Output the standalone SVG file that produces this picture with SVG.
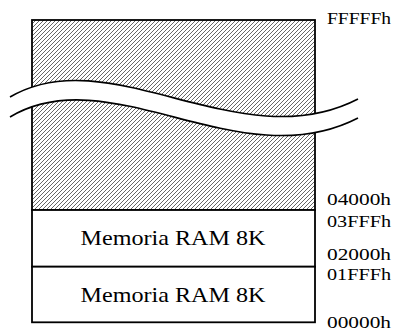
<svg xmlns="http://www.w3.org/2000/svg" width="393" height="331" viewBox="0 0 393 331">
<defs>
<pattern id="hatch" patternUnits="userSpaceOnUse" width="4" height="4">
<path d="M-1,1 L1,-1 M0,4 L4,0 M3,5 L5,3" stroke="#000" stroke-width="0.6"/>
</pattern>
</defs>
<style>
.box{stroke:#000;stroke-width:1.8;}
.lbl{font-family:"Liberation Serif","Times New Roman",serif;font-size:17px;fill:#000;}
.ram{font-family:"Liberation Serif","Times New Roman",serif;font-size:22px;fill:#000;text-anchor:middle;}
.brk{fill:none;stroke:#000;stroke-width:1.6;}
</style>
<g id="reserved">
<rect class="box" x="32" y="20" width="283" height="190" fill="url(#hatch)"/>
</g>
<g id="ram2">
<rect class="box" x="32" y="210" width="283" height="56.7" fill="#fff"/>
<text class="ram" x="173" y="245" textLength="185" lengthAdjust="spacingAndGlyphs">Memoria RAM 8K</text>
</g>
<g id="ram1">
<rect class="box" x="32" y="266.7" width="283" height="55.6" fill="#fff"/>
<text class="ram" x="173" y="301.6" textLength="185" lengthAdjust="spacingAndGlyphs">Memoria RAM 8K</text>
</g>
<g id="break">
<path d="M10,97 C110,38 240,160 358,99 L358,118 C240,179 110,57 10,117 Z" fill="#fff"/>
<path class="brk" d="M10,97 C110,38 240,160 358,99"/>
<path class="brk" d="M10,117 C110,57 240,179 358,118"/>
</g>
<g id="labels">
<text class="lbl" x="327" y="24" textLength="64" lengthAdjust="spacingAndGlyphs">FFFFFh</text>
<text class="lbl" x="327" y="205" textLength="64" lengthAdjust="spacingAndGlyphs">04000h</text>
<text class="lbl" x="327" y="226.7" textLength="64" lengthAdjust="spacingAndGlyphs">03FFFh</text>
<text class="lbl" x="327" y="259.5" textLength="64" lengthAdjust="spacingAndGlyphs">02000h</text>
<text class="lbl" x="327" y="280" textLength="64" lengthAdjust="spacingAndGlyphs">01FFFh</text>
<text class="lbl" x="327" y="327.5" textLength="64" lengthAdjust="spacingAndGlyphs">00000h</text>
</g>
</svg>
